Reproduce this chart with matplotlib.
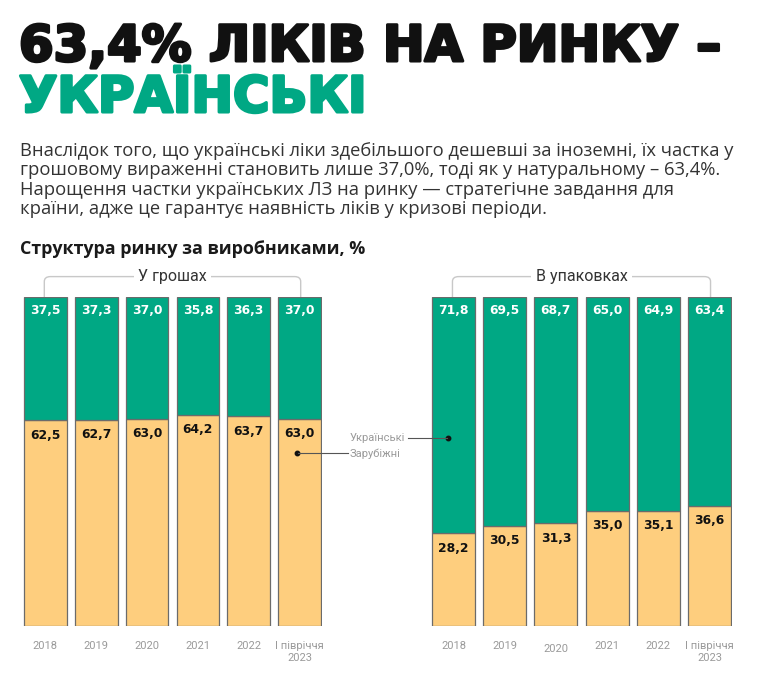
import matplotlib
matplotlib.use("Agg")
import matplotlib.pyplot as plt
import matplotlib.patheffects as pe
from matplotlib.path import Path
from matplotlib.patches import PathPatch

years = ["2018", "2019", "2020", "2021", "2022", "І півріччя\n2023"]
money_ua = [37.5, 37.3, 37.0, 35.8, 36.3, 37.0]
money_foreign = [62.5, 62.7, 63.0, 64.2, 63.7, 63.0]
packs_ua = [71.8, 69.5, 68.7, 65.0, 64.9, 63.4]
packs_foreign = [28.2, 30.5, 31.3, 35.0, 35.1, 36.6]

GREEN = "#00A884"
ORANGE = "#FECE7E"
EDGE = "#6b6b6b"
GREY = "#9a9a9a"

W, H = 764, 673
fig = plt.figure(figsize=(W / 100, H / 100), dpi=100)
fig.patch.set_facecolor("white")


def fx(x):
    return x / W


def fy(y):
    return 1 - y / H


HEAVY = ["DejaVu Sans"]
BODY = ["Open Sans", "DejaVu Sans"]
LIGHT = ["Roboto", "DejaVu Sans"]

fig.text(fx(19), fy(61), "63,4% ЛІКІВ НА РИНКУ –", family=HEAVY, weight="bold",
         fontsize=35.8, color="#111111", va="baseline", ha="left",
         path_effects=[pe.withStroke(linewidth=2.2, foreground="#111111")])
fig.text(fx(19), fy(112), "УКРАЇНСЬКІ", family=HEAVY, weight="bold",
         fontsize=35.8, color=GREEN, va="baseline", ha="left",
         path_effects=[pe.withStroke(linewidth=2.2, foreground=GREEN)])

para = [
    "Внаслідок того, що українські ліки здебільшого дешевші за іноземні, їх частка у",
    "грошовому вираженні становить лише 37,0%, тоді як у натуральному – 63,4%.",
    "Нарощення частки українських ЛЗ на ринку — стратегічне завдання для",
    "країни, адже це гарантує наявність ліків у кризові періоди.",
]
for i, line in enumerate(para):
    fig.text(fx(20), fy(156 + i * 19.3), line, family=BODY, fontsize=13.25,
             color="#333333", va="baseline", ha="left")

fig.text(fx(20), fy(254), "Структура ринку за виробниками, %", family=BODY,
         weight="bold", fontsize=12.9, color="#1a1a1a", va="baseline", ha="left")

BW = 0.838
top_px, bot_px = 297, 626


def panel(left_px, right_px, ua, foreign, title, dip2020=False):
    ax = fig.add_axes([fx(left_px), fy(bot_px), (right_px - left_px) / W,
                       (bot_px - top_px) / H])
    xs = list(range(len(ua)))
    ax.bar(xs, foreign, width=BW, color=ORANGE, edgecolor=EDGE, linewidth=0.9)
    ax.bar(xs, ua, bottom=foreign, width=BW, color=GREEN, edgecolor=EDGE, linewidth=0.9)
    ax.set_xlim(-BW / 2 - 0.02, len(ua) - 1 + BW / 2 + 0.02)
    ax.set_ylim(0, 100)
    ax.axis("off")
    for x, u, f in zip(xs, ua, foreign):
        ax.annotate(f"{u:.1f}".replace(".", ","), (x, 100), xytext=(0, -14),
                    textcoords="offset pixels", ha="center", va="center",
                    color="white", family=HEAVY, weight="bold", fontsize=8.9)
        ax.annotate(f"{f:.1f}".replace(".", ","), (x, f), xytext=(0, -15),
                    textcoords="offset pixels", ha="center", va="center",
                    color="#111111", family=HEAVY, weight="bold", fontsize=8.9)
    for x, lab in zip(xs, years):
        off = -18 if (dip2020 and lab == "2020") else -15
        ax.annotate(lab, (x, 0), xytext=(0, off), textcoords="offset pixels",
                    ha="center", va="top", color=GREY, family=LIGHT, fontsize=8,
                    linespacing=1.2)
    # bracket
    x0, x1 = xs[0], xs[-1]
    ytop = 106.2
    r = 0.12
    ry = 1.5
    verts = [(x0 - 0.02, 100), (x0 - 0.02, ytop - ry), (x0 - 0.02, ytop), (x0 - 0.02 + r, ytop),
             (x1 - r + 0.02, ytop), (x1 + 0.02, ytop), (x1 + 0.02, ytop - ry), (x1 + 0.02, 100)]
    codes = [Path.MOVETO, Path.LINETO, Path.CURVE3, Path.CURVE3,
             Path.LINETO, Path.CURVE3, Path.CURVE3, Path.LINETO]
    ax.add_patch(PathPatch(Path(verts, codes), fill=False, edgecolor="#c8c8c8",
                           linewidth=1.0, clip_on=False))
    xm = (x0 + x1) / 2
    ax.text(xm, ytop, title, ha="center", va="center", family=LIGHT, fontsize=11.5,
            color="#333333", bbox=dict(facecolor="white", edgecolor="none", pad=3),
            clip_on=False)
    return ax


axL = panel(23, 322, money_ua, money_foreign, "У грошах")
axR = panel(431, 732, packs_ua, packs_foreign, "В упаковках", dip2020=True)

# legend-style annotations
axR.plot([-0.1], [57.1], "o", color="#111111", markersize=3.2, clip_on=False)
axL.plot([5.0 - 0.05], [52.6], "o", color="#111111", markersize=3.2, clip_on=False)
fig.add_artist(plt.Line2D([fx(408), fx(447)], [fy(438), fy(438)], color="#555555", lw=0.8))
fig.add_artist(plt.Line2D([fx(298), fx(348)], [fy(453), fy(453)], color="#555555", lw=0.8))
fig.text(fx(405), fy(438), "Українські", ha="right", va="center", family=LIGHT,
         fontsize=8, color=GREY)
fig.text(fx(350), fy(454), "Зарубіжні", ha="left", va="center", family=LIGHT,
         fontsize=8, color=GREY)

fig.savefig("out.png", dpi=100, facecolor="white")
